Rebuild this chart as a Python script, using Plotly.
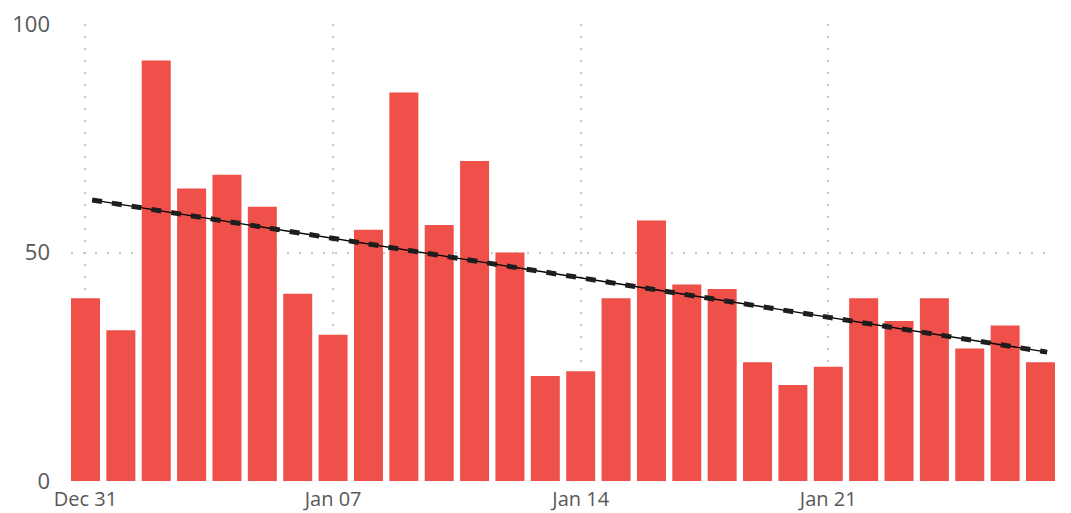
import plotly.graph_objects as go
import pandas as pd

dates = pd.date_range("2023-12-31", periods=28, freq="D").strftime("%Y-%m-%d").tolist()
values = [40, 33, 92, 64, 67, 60, 41, 32, 55, 85, 56, 70, 50, 23, 24, 40, 57, 43, 42, 26,
          21, 25, 40, 35, 40, 29, 34, 26]
trend_dates = ["2023-12-31 04:30", "2024-01-27 04:30"]
trend_values = [61.5, 28.2]
y_ticks = [0, 50, 100]
x_ticks = ["2023-12-31", "2024-01-07", "2024-01-14", "2024-01-21"]

BAR = "#EF5049"
FONT = "Open Sans"

fig = go.Figure()
fig.add_trace(go.Bar(x=dates, y=values, marker=dict(color=BAR, line=dict(width=0)),
                     showlegend=False))
fig.add_trace(go.Scatter(x=trend_dates, y=trend_values, mode="lines",
                         line=dict(color="#000000", width=1.3), showlegend=False))
fig.add_trace(go.Scatter(x=trend_dates, y=trend_values, mode="lines",
                         line=dict(color="#1e1e1e", width=5, dash="10px,10px"),
                         showlegend=False))

fig.update_layout(
    width=1071, height=513,
    margin=dict(l=71, r=16, t=24, b=32),
    plot_bgcolor="white", paper_bgcolor="white",
    bargap=0.18,
    font=dict(family=FONT, size=21, color="#585858"),
    xaxis=dict(
        type="date", automargin=False, ticklabeloverflow="allow",
        range=["2023-12-30 14:10", "2024-01-27 09:50"],
        tickvals=x_ticks, tickformat="%b %d", tickfont=dict(size=20),
        showgrid=True, gridcolor="#c8c8c8", gridwidth=2, griddash="2px,10px",
        zeroline=False, showline=False, ticks="", ticklabelstandoff=4,
    ),
    yaxis=dict(
        range=[0, 100], tickvals=y_ticks, automargin=False, ticklabeloverflow="allow",
        tickfont=dict(size=22),
        showgrid=True, gridcolor="#c8c8c8", gridwidth=2, griddash="2px,10px",
        zeroline=False, showline=False, ticks="", ticklabelstandoff=20,
    ),
)

fig.write_html(
    "out.html",
    config={"displayModeBar": False},
    post_script="document.body.style.margin='0';document.body.style.overflow='hidden';",
)
